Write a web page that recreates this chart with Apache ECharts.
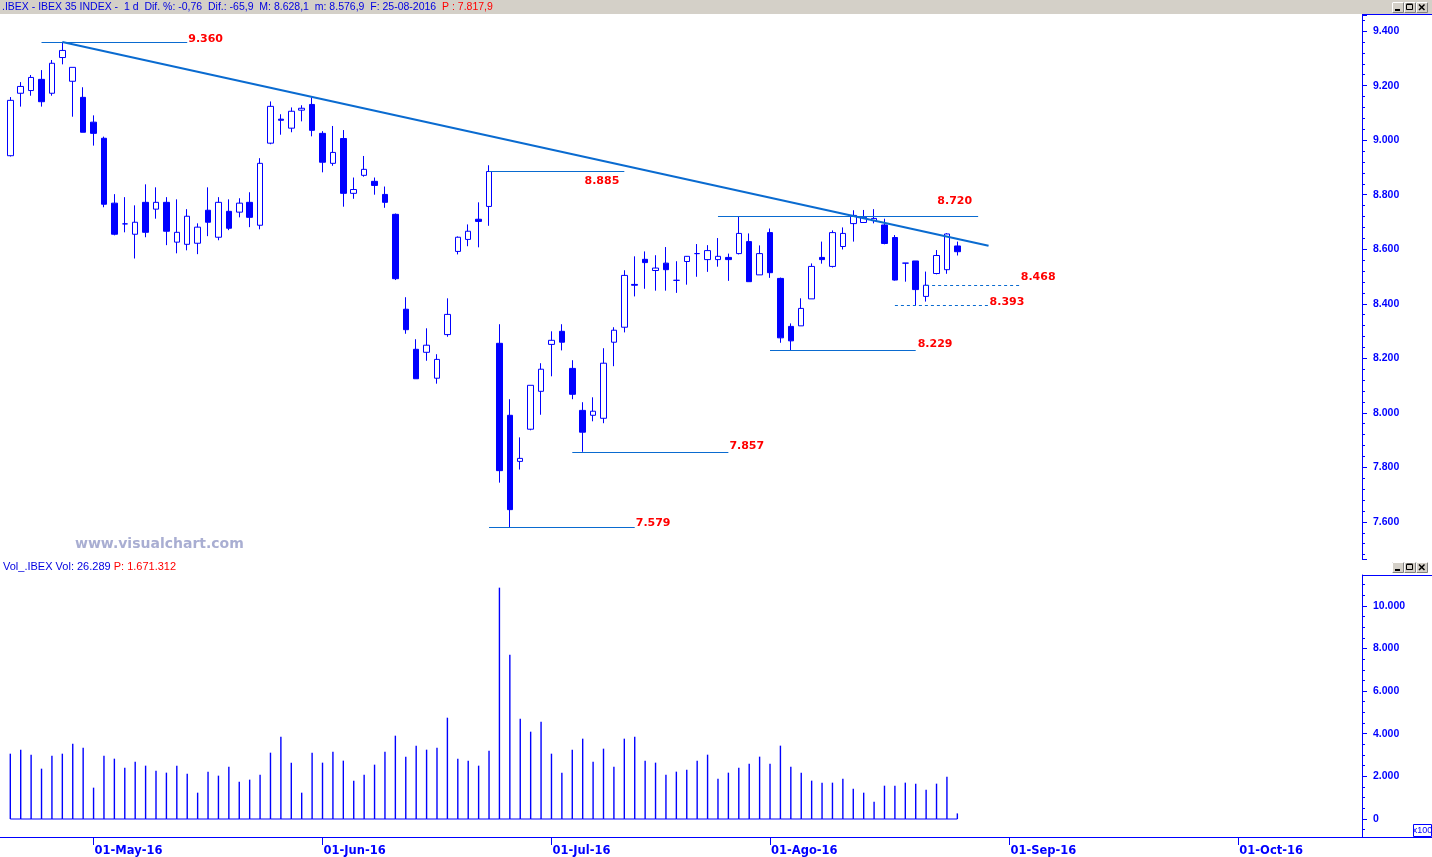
<!DOCTYPE html>
<html><head><meta charset="utf-8">
<script src="https://cdn.jsdelivr.net/npm/echarts@6/dist/echarts.min.js"></script>
<style>html,body{margin:0;padding:0;background:#fff}#c{width:1432px;height:857px}</style>
</head><body><div id="c"></div>
<script>
// ---------------- DATA ----------------
const firstDate = [2016, 3, 20];          // 20-Apr-2016 (first session shown)
const categoryCount = 130;                // sessions on the time axis (incl. empty future)
const opens  = [8943,9172,9182,9223,9172,9303,9216,9157,9066,9007,8769,8693,8655,8772,8747,8772,8626,8618,8622,8743,8644,8739,8736,8772,8688,8989,9077,9044,9110,9131,9025,8915,9006,8805,8871,8849,8801,8728,8380,8233,8222,8127,8287,8592,8636,8710,8757,8255,7991,7822,7940,8079,8251,8299,8163,8009,7991,7980,8259,8314,8471,8563,8522,8549,8486,8555,8584,8562,8562,8570,8584,8628,8506,8661,8493,8317,8319,8418,8570,8537,8610,8694,8698,8705,8689,8643,8549,8557,8427,8511,8525,8612];
const closes = [9146,9197,9230,9141,9282,9329,9267,9029,9025,8765,8655,8693,8699,8662,8772,8666,8662,8721,8681,8699,8772,8677,8769,8717,8915,9124,9073,9106,9117,9036,8919,8955,8805,8819,8893,8834,8772,8492,8305,8125,8248,8196,8361,8644,8666,8702,8885,7788,7645,7833,8101,8160,8266,8259,8068,7929,8006,8182,8303,8504,8468,8551,8531,8525,8486,8574,8584,8595,8574,8562,8658,8481,8584,8514,8275,8264,8383,8537,8562,8661,8658,8724,8717,8713,8621,8487,8549,8452,8468,8577,8656,8591];
const lows   = [8940,9123,9163,9123,9163,9278,9086,9029,8980,8754,8651,8662,8566,8644,8712,8615,8585,8596,8582,8648,8633,8670,8717,8681,8673,8985,9020,9029,9069,9014,8882,8906,8756,8785,8866,8800,8752,8487,8290,8125,8191,8107,8279,8581,8611,8607,8686,7744,7579,7792,7936,7993,8134,8229,8050,7857,7969,7962,8171,8295,8427,8455,8448,8448,8440,8470,8499,8517,8536,8484,8581,8481,8506,8495,8257,8229,8319,8418,8547,8533,8599,8628,8698,8695,8618,8485,8481,8393,8408,8508,8510,8577];
const highs  = [9158,9213,9239,9257,9294,9360,9267,9194,9091,9013,8802,8791,8761,8838,8827,8791,8783,8747,8695,8827,8791,8783,8787,8809,8934,9142,9095,9120,9128,9157,9033,9052,9037,8863,8942,8863,8830,8731,8424,8270,8310,8215,8420,8647,8691,8772,8908,8325,8050,7910,8101,8182,8299,8325,8193,8039,8057,8237,8314,8523,8574,8592,8578,8608,8556,8575,8619,8615,8641,8584,8720,8658,8614,8676,8496,8328,8420,8548,8628,8669,8680,8743,8744,8747,8712,8652,8549,8557,8518,8597,8659,8628];
const volumes = [3064,3252,3017,2361,2971,3064,3533,3346,1470,2971,2830,2408,2690,2502,2268,2174,2502,2127,1235,2221,2033,2455,1752,1846,2080,3111,3862,2643,1235,3111,2643,3158,2737,1799,2080,2549,3158,3908,2924,3440,3252,3346,4752,2830,2737,2502,3205,10850,7707,4706,4096,4565,3064,2174,3252,3768,2690,3299,2455,3768,3862,2737,2643,2080,2221,2315,2737,3017,1893,2174,2408,2596,2924,2596,3440,2455,2174,1799,1705,1705,1893,1423,1235,813,1563,1563,1705,1658,1376,1658,1986,263];
const monthTickDates  = ['2016-05-02','2016-06-01','2016-07-01','2016-08-01','2016-09-01','2016-10-03'];
const monthTickLabels = ['01-May-16','01-Jun-16','01-Jul-16','01-Ago-16','01-Sep-16','01-Oct-16'];
// support / resistance levels (value, first session index, last session index)
const levelValues   = [9360, 8885, 8720, 8468, 8393, 8229, 7857, 7579];
const levelStartIdx = [3, 46, 68, 88, 85, 73, 54, 46];
const levelEndIdx   = [17, 59, 93, 97, 94, 87, 69, 60];
// down-trend line: [session index, value]
const trendStart = [5, 9360];
const trendEnd   = [94, 8613];
const headerMain = '.IBEX - IBEX 35 INDEX -  1 d  Dif. %: -0,76  Dif.: -65,9  M: 8.628,1  m: 8.576,9  F: 25-08-2016  ';
const headerLast = 'P : 7.817,9';
const volHeaderMain = 'Vol_.IBEX Vol: 26.289 ';
const volHeaderLast = 'P: 1.671.312';

// ---------------- BUILD ----------------
function tradingDays(){
  const out = [];
  const d = new Date(Date.UTC(firstDate[0], firstDate[1], firstDate[2]));
  while (out.length < categoryCount) {
    const wd = d.getUTCDay();
    if (wd !== 0 && wd !== 6) out.push(d.toISOString().slice(0, 10));
    d.setUTCDate(d.getUTCDate() + 1);
  }
  return out;
}
const dates = tradingDays();
const fmt = v => String(Math.round(v)).replace(/\B(?=(\d{3})+(?!\d))/g, '.');
const ohlc = opens.map((o, i) => [o, closes[i], lows[i], highs[i]]);
const tickMap = {};
monthTickDates.forEach((d, i) => tickMap[d] = monthTickLabels[i]);

const BLUE = '#0000ff';
const LINE = '#0a6bd0';
const RED = '#ff0000';

// label placement styles for each level (kept separate from data)
const levelStyle = [
  {dashed:false, position:'end', distance:1, shift:3},
  {dashed:false, position:'insideEndBottom', distance:[5,4], shift:0},
  {dashed:false, position:'insideEndTop', distance:[6,10], shift:0},
  {dashed:true,  position:'end', distance:1, shift:8},
  {dashed:true,  position:'end', distance:1, shift:4},
  {dashed:false, position:'end', distance:2, shift:6.5},
  {dashed:false, position:'end', distance:1, shift:6},
  {dashed:false, position:'end', distance:1, shift:5}
];

const markData = levelValues.map((v, i) => {
  const s = levelStyle[i];
  const lab = {show:true, position:s.position, distance:s.distance, formatter: fmt(v),
               color:RED, fontWeight:'bold', fontSize:11, fontFamily:'DejaVu Sans'};
  if (s.shift) { lab.verticalAlign = 'bottom'; lab.lineHeight = 2 * s.shift; }
  return [
    {coord:[levelStartIdx[i], v],
     lineStyle:{type: s.dashed ? [3,3] : 'solid', width:1, color:LINE},
     label:lab},
    {coord:[levelEndIdx[i], v]}
  ];
});
markData.push([
  {coord: trendStart, lineStyle:{width:2, color:LINE, type:'solid'}, label:{show:false}},
  {coord: trendEnd}
]);

function buttons(y){
  const x0 = 1392, els = [];
  for (let k = 0; k < 3; k++) {
    const x = x0 + k * 12;
    els.push({type:'rect', shape:{x:x+0.5, y:y+0.5, width:11, height:10}, style:{fill:'#d4d0c8', stroke:'#808080', lineWidth:1}, silent:true});
    els.push({type:'polyline', shape:{points:[[x+0.5,y+10.5],[x+0.5,y+0.5],[x+11.5,y+0.5]]}, style:{stroke:'#ffffff', lineWidth:1, fill:null}, silent:true});
  }
  els.push({type:'rect', shape:{x:x0+3, y:y+7, width:5, height:2}, style:{fill:'#000'}, silent:true});
  els.push({type:'rect', shape:{x:x0+12+2.5, y:y+2.5, width:6, height:5}, style:{fill:null, stroke:'#000', lineWidth:1}, silent:true});
  els.push({type:'line', shape:{x1:x0+12+2.5, y1:y+2, x2:x0+12+8.5, y2:y+2}, style:{stroke:'#000', lineWidth:1}, silent:true});
  els.push({type:'line', shape:{x1:x0+24+3, y1:y+2.5, x2:x0+24+8.5, y2:y+8}, style:{stroke:'#000', lineWidth:1.5}, silent:true});
  els.push({type:'line', shape:{x1:x0+24+8.5, y1:y+2.5, x2:x0+24+3, y2:y+8}, style:{stroke:'#000', lineWidth:1.5}, silent:true});
  return els;
}

const gridLeft = 5.1;
const band = 10.407;
const gridWidth = band * categoryCount;

const axisLabelStyle = {color:BLUE, fontWeight:'bold', fontSize:10.5, fontFamily:'Liberation Sans', margin:11};

const option = {
  animation:false,
  backgroundColor:'#ffffff',
  grid:[
    {left:gridLeft, top:15, width:gridWidth, height:544},
    {left:gridLeft, top:575, width:gridWidth, height:262}
  ],
  xAxis:[
    {type:'category', gridIndex:0, data:dates, boundaryGap:true, show:false},
    {type:'category', gridIndex:1, data:dates, boundaryGap:true, position:'bottom',
     axisLine:{show:false, onZero:false},
     axisTick:{show:true, alignWithLabel:true, length:8, lineStyle:{color:BLUE, width:1},
               interval:(idx, val) => tickMap[val] !== undefined},
     axisLabel:{show:true, interval:(idx, val) => tickMap[val] !== undefined,
                formatter: val => tickMap[val] || '', align:'left', padding:[0,0,0,1],
                margin:8, color:BLUE, fontWeight:'bold', fontSize:11.5, fontFamily:'DejaVu Sans'},
     splitLine:{show:false}}
  ],
  yAxis:[
    {type:'value', gridIndex:0, position:'right', offset:4, min:7464, max:9459, splitNumber:10,
     axisLine:{show:true, lineStyle:{color:BLUE, width:1}},
     axisTick:{show:true, length:5, lineStyle:{color:BLUE}},
     minorTick:{show:true, splitNumber:5, length:3, lineStyle:{color:BLUE}},
     axisLabel:Object.assign({formatter: fmt, showMinLabel:false, showMaxLabel:false}, axisLabelStyle),
     splitLine:{show:false}},
    {type:'value', gridIndex:1, position:'right', offset:4, min:-844, max:11444, splitNumber:6,
     axisLine:{show:true, lineStyle:{color:BLUE, width:1}},
     axisTick:{show:true, length:5, lineStyle:{color:BLUE}},
     minorTick:{show:true, splitNumber:4, length:3, lineStyle:{color:BLUE}},
     axisLabel:Object.assign({formatter: fmt, showMinLabel:false, showMaxLabel:false}, axisLabelStyle),
     splitLine:{show:false}}
  ],
  series:[
    {type:'candlestick', name:'IBEX', xAxisIndex:0, yAxisIndex:0, data:ohlc, barWidth:6,
     itemStyle:{color:'#ffffff', color0:BLUE, borderColor:BLUE, borderColor0:BLUE, borderColorDoji:BLUE, borderWidth:1},
     markLine:{silent:true, symbol:['none','none'], animation:false, precision:0,
               lineStyle:{color:LINE, width:1}, data:markData}},
    {type:'bar', name:'Vol', xAxisIndex:1, yAxisIndex:1, data:volumes, barWidth:1.4,
     itemStyle:{color:BLUE}},
    {type:'line', name:'VolBase', xAxisIndex:1, yAxisIndex:1, data:volumes.map(() => 0),
     symbol:'none', lineStyle:{color:BLUE, width:1}, silent:true}
  ],
  graphic:[
    {type:'rect', shape:{x:0, y:0, width:1432, height:14}, style:{fill:'#d4d0c8'}, silent:true, z:-1},
    {type:'text', x:2, y:7, style:{
      text:'{a|' + headerMain + '}{b|' + headerLast + '}',
      verticalAlign:'middle',
      rich:{a:{fill:'#0000e0', fontSize:10.5, fontFamily:'Liberation Sans'},
            b:{fill:RED, fontSize:10.5, fontFamily:'Liberation Sans'}}}, silent:true},
    {type:'line', shape:{x1:1362, y1:14.5, x2:1432, y2:14.5}, style:{stroke:BLUE, lineWidth:1}, silent:true},
    {type:'line', shape:{x1:1362, y1:575.5, x2:1432, y2:575.5}, style:{stroke:BLUE, lineWidth:1}, silent:true},
    {type:'line', shape:{x1:0, y1:837.5, x2:1432, y2:837.5}, style:{stroke:BLUE, lineWidth:1}, silent:true},
    {type:'text', x:75, y:544, style:{text:'www.visualchart.com', verticalAlign:'middle',
      fill:'#a9aed2', fontSize:14, fontWeight:'bold', fontFamily:'DejaVu Sans'}, silent:true},
    {type:'text', x:3, y:567, style:{
      text:'{a|' + volHeaderMain + '}{b|' + volHeaderLast + '}',
      verticalAlign:'middle',
      rich:{a:{fill:'#0000e0', fontSize:11, fontFamily:'Liberation Sans'},
            b:{fill:RED, fontSize:11, fontFamily:'Liberation Sans'}}}, silent:true},
    {type:'rect', shape:{x:1413.5, y:824.5, width:18, height:12}, style:{fill:'#fff', stroke:BLUE, lineWidth:1}, silent:true},
    {type:'text', x:1422.5, y:830.5, style:{text:'x100', align:'center', verticalAlign:'middle', fill:BLUE, fontSize:9, fontFamily:'Liberation Sans'}, silent:true}
  ].concat(buttons(2), buttons(562))
};

const chart = echarts.init(document.getElementById('c'), null, {renderer:'canvas'});
chart.setOption(option);
</script>
</body></html>
